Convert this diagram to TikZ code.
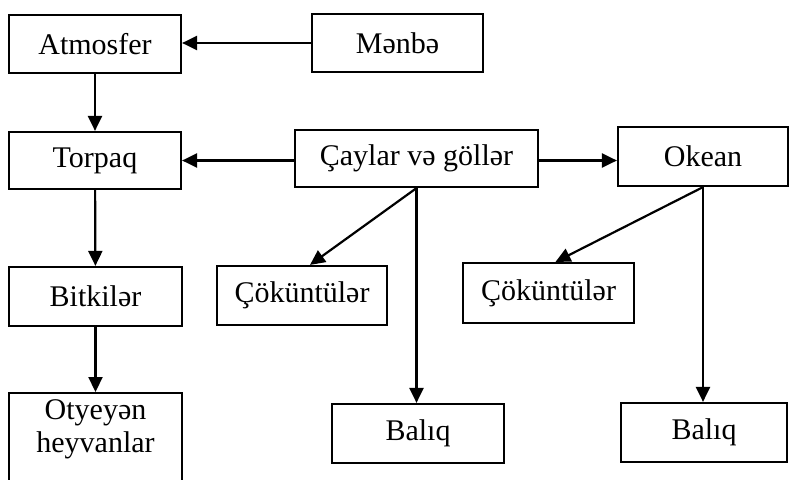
\documentclass[tikz,border=0pt]{standalone}
\usepackage{fontspec}
\setmainfont{Liberation Serif}
\usetikzlibrary{arrows.meta}
\begin{document}
\begin{tikzpicture}[x=1pt,y=-1pt,
  box/.style={draw, line width=2.2pt, inner sep=0pt, align=center,
    font=\fontsize{30}{33}\selectfont},
  arr/.style={line width=2.2pt, -{Triangle[length=15pt,width=14pt]}}]
\clip (0,0) rectangle (789,479);
\fill[white] (0,0) rectangle (789,479);

% boxes
\node[box, minimum width=172pt, minimum height=58pt] (Atmosfer) at (95,44) {Atmosfer};
\node[box, minimum width=171pt, minimum height=58pt] (Menbe) at (397.5,43) {Mənbə};
\node[box, minimum width=172pt, minimum height=57pt] (Torpaq) at (95,160.5) {Torpaq};
\node[box, minimum width=243pt, minimum height=57pt] (Caylar) at (416.5,158.5) {Çaylar və göllər};
\node[box, minimum width=170pt, minimum height=59pt] (Okean) at (703,156.5) {Okean};
\node[box, minimum width=173pt, minimum height=59pt] (Bitkiler) at (95.5,296.5) {Bitkilər};
\node[box, minimum width=173pt, minimum height=110pt, anchor=north] (Otyeyen) at (95.5,392)
  {\rule{0pt}{0pt}};
\node[font=\fontsize{30}{33}\selectfont, align=center, anchor=north] (OtyeyenText)
  at (95.5,396) {Otyeyən\\heyvanlar};
\node[box, minimum width=170pt, minimum height=59pt] (Cok1) at (302,295.5) {Çöküntülər};
\node[box, minimum width=172pt, minimum height=59pt] (Baliq1) at (418,433.5) {Balıq};
\node[box, minimum width=171pt, minimum height=60pt] (Cok2) at (548.5,293) {Çöküntülər};
\node[box, minimum width=166pt, minimum height=59pt] (Baliq2) at (704,432.5) {Balıq};

% connectors
\draw[arr] (Menbe.west) -- (Menbe.west -| Atmosfer.east);
\draw[arr] (Atmosfer) -- (Torpaq);
\draw[arr] (Caylar.west |- Torpaq.east) -- (Torpaq.east);
\draw[arr] ([yshift=-2pt]Caylar.east) -- ([yshift=-2pt]Caylar.east -| Okean.west);
\draw[arr] (Torpaq) -- (Bitkiler);
\draw[arr] (Bitkiler) -- (Otyeyen.north);
\draw[arr] (Caylar.south) -- ([xshift=8pt]Cok1.north);
\draw[arr] (Caylar.south) -- (Caylar.south |- Baliq1.north);
\draw[arr] (Okean.south) -- ([xshift=7pt]Cok2.north);
\draw[arr] (Okean.south) -- (Okean.south |- Baliq2.north);
\end{tikzpicture}
\end{document}
